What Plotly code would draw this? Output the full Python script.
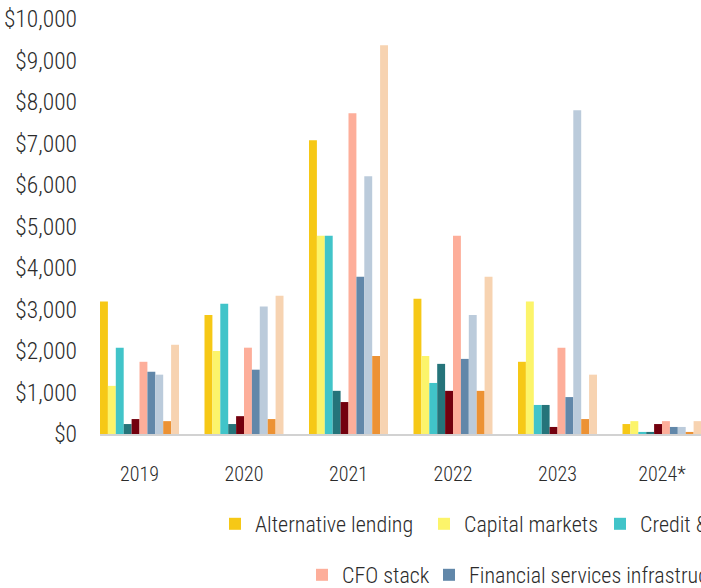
import plotly.graph_objects as go

years = ["2019", "2020", "2021", "2022", "2023", "2024*"]

series_names = [
    "Alternative lending",
    "Capital markets",
    "Credit & banking",
    "Crypto",
    "Digital banking",
    "CFO stack",
    "Financial services infrastructure",
    "Insurtech",
    "Payments",
    "Wealth management",
]

alternative_lending = [3190, 2870, 7080, 3260, 1740, 240]
capital_markets = [1160, 2000, 4780, 1880, 3190, 310]
credit_banking = [2080, 3140, 4780, 1230, 700, 50]
crypto = [240, 240, 1040, 1690, 700, 50]
digital_banking = [360, 430, 770, 1040, 170, 240]
cfo_stack = [1740, 2080, 7730, 4780, 2080, 310]
fs_infrastructure = [1500, 1550, 3790, 1810, 890, 170]
insurtech = [1430, 3070, 6210, 2870, 7800, 170]
payments = [310, 360, 1880, 1040, 360, 50]
wealth_management = [2150, 3330, 9370, 3790, 1430, 310]

values = [
    alternative_lending, capital_markets, credit_banking, crypto, digital_banking,
    cfo_stack, fs_infrastructure, insurtech, payments, wealth_management,
]

y_ticks = list(range(0, 10001, 1000))
y_tick_labels = ["$" + f"{v:,}" for v in y_ticks]

colors = ["#F6C816", "#FCF46A", "#41C4C9", "#25747A", "#73000E",
          "#FDAE9A", "#6187A9", "#BBCBDB", "#EC9234", "#F7D3B1"]

W, H = 900, 588
ML, MT, MB = 100, 19, 154
PX_PER_CAT = 104.5
PLOT_W = 625
MR = W - ML - PLOT_W
PLOT_H = H - MT - MB
x0 = -0.378
x1 = x0 + PLOT_W / PX_PER_CAT

FONT = "Roboto Condensed, Roboto, sans-serif"
TXT = "#2b2b2b"

# legend swatch positions (px) and row centres
legend_pos = [(229, 524), (438, 524), (614, 524), (820, 524), (960, 524),
              (316, 575), (443, 575), (820, 575), (960, 575), (1100, 575)]

fig = go.Figure()
for i, (name, vals) in enumerate(zip(series_names, values)):
    lg = "legend" if i == 0 else f"legend{i+1}"
    fig.add_trace(go.Bar(name=name, x=years, y=vals, marker_color=colors[i],
                         marker_line_width=0, legend=lg))

layout_legends = {}
for i, (px, py) in enumerate(legend_pos):
    key = "legend" if i == 0 else f"legend{i+1}"
    layout_legends[key] = dict(
        x=(px - 14 - ML) / PLOT_W, xanchor="left",
        y=(H - MB - py) / PLOT_H, yanchor="middle",
        orientation="h", bgcolor="rgba(0,0,0,0)",
        font=dict(family=FONT, size=22, color=TXT, weight=300),
        itemclick=False, itemdoubleclick=False,
    )

fig.update_layout(
    width=W, height=H,
    margin=dict(l=ML, r=MR, t=MT, b=MB, pad=0, autoexpand=False),
    paper_bgcolor="white", plot_bgcolor="white",
    barmode="group", bargap=0.244, bargroupgap=0,
    font=dict(family=FONT, color=TXT, weight=300),
    showlegend=True,
    **layout_legends,
)
fig.update_xaxes(
    type="category", range=[x0, x1], showgrid=False, zeroline=False,
    showline=True, linecolor="#d2d2d2", linewidth=2,
    ticks="", tickfont=dict(family=FONT, size=20, color=TXT, weight=300),
    ticklabelstandoff=21,
)
fig.update_yaxes(
    range=[0, 10000], tickvals=y_ticks, ticktext=y_tick_labels,
    showgrid=False, zeroline=False, showline=False, ticks="",
    tickfont=dict(family=FONT, size=23.5, color=TXT, weight=300),
    ticklabelstandoff=22,
)

fig.write_html(
    "out.html",
    config={"displayModeBar": False},
    post_script="document.body.style.margin='0';document.body.style.overflow='hidden';",
)
